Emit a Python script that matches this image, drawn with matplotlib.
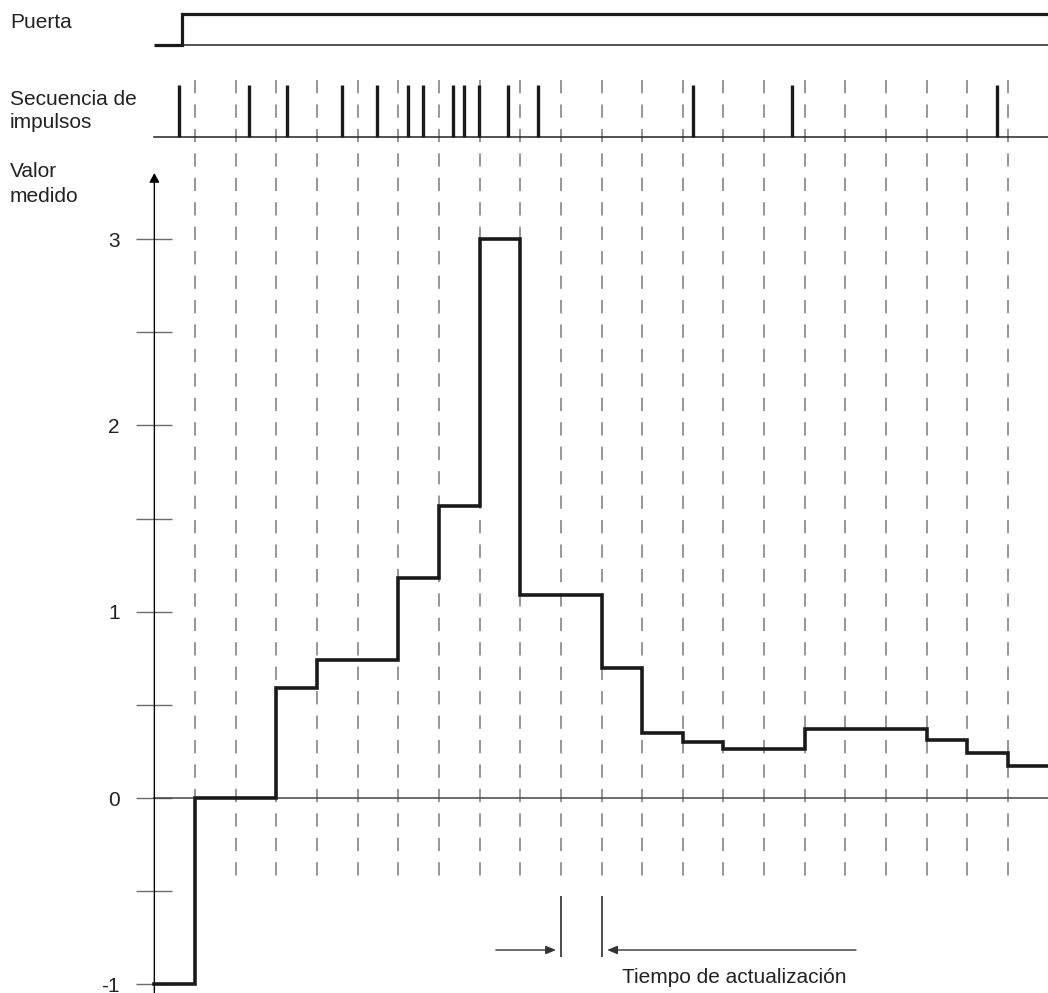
import matplotlib.pyplot as plt
import numpy as np

plt.rcParams['font.family'] = ['Liberation Sans', 'DejaVu Sans']

W, H, DPI = 1048, 993, 100

# time is counted in update intervals, values in units of the measured quantity
gate_t = [-1.0, -0.32, 21.0]
gate_state = [0, 1, 1]
pulse_t = [-0.39, 1.33, 2.26, 3.62, 4.48, 5.24, 5.61, 6.35, 6.62, 6.99,
           7.70, 8.44, 12.25, 14.69, 19.73]
update_t = np.arange(0, 21)
step_t = [-1, 0, 2, 3, 5, 6, 7, 8, 10, 11, 12, 13, 15, 18, 19, 20, 21]
step_v = [-1, 0, 0.59, 0.74, 1.18, 1.57, 3.0, 1.09, 0.70, 0.35, 0.30,
          0.265, 0.37, 0.31, 0.24, 0.17, 0.17]
y_major = [-1, 0, 1, 2, 3]
y_minor = [-0.5, 0.5, 1.5, 2.5]
marker_t = [9, 10]
labels = {
    'gate': 'Puerta',
    'pulses': ['Secuencia de', 'impulsos'],
    'value': ['Valor', 'medido'],
    'update': 'Tiempo de actualización',
}

# layout (pixels of the output image)
PX_T, X0 = 40.65, 195.0       # px per interval, px of t=0
PX_V, Y0 = 186.3, 798.0       # px per unit, px (from top) of value 0
FS = 15
INK = '#1a1a1a'


def tx(px):
    return (px - X0) / PX_T


def vy(py):
    return (Y0 - py) / PX_V


fig = plt.figure(figsize=(W / DPI, H / DPI), dpi=DPI, facecolor='white')
ax = fig.add_axes([0, 0, 1, 1])
ax.set_xlim(tx(0), tx(W))
ax.set_ylim(vy(H), vy(0))
ax.patch.set_alpha(0)


def lane(top_px, bot_px, zero_px, one_px):
    a = fig.add_axes([0, 1 - bot_px / H, 1, (bot_px - top_px) / H], sharex=ax)
    s = zero_px - one_px
    a.set_ylim((zero_px - bot_px) / s, (zero_px - top_px) / s)
    a.axis('off')
    a.patch.set_alpha(0)
    return a


# gate
ax_g = lane(0, 60, 45, 13.5)
ax_g.step(gate_t, gate_state, where='post', lw=2.3, color=INK,
          solid_joinstyle='miter', solid_capstyle='butt')
ax_g.plot([gate_t[1], gate_t[-1]], [0, 0], lw=1.1, color='#222222')

# pulse sequence
ax_p = lane(70, 150, 137, 85)
ax_p.plot([-1, 21], [0, 0], lw=1.1, color='#222222')
ax_p.vlines(pulse_t, 0, 1, lw=2.4, color=INK)

# update grid
ax.vlines(update_t, vy(80), vy(885), colors='#7a7a7a', lw=1.1,
          linestyles=(0, (8.7, 7.3)))

# value axis
for s in ['top', 'right', 'bottom']:
    ax.spines[s].set_visible(False)
ax.spines['left'].set_visible(False)
ax.spines['left'].set_position(('data', -1))
ax.set_xticks([])
ax.set_yticks(y_major)
ax.set_yticks(y_minor, minor=True)
ax.set_yticklabels([str(v) for v in y_major])
ax.tick_params(axis='y', which='both', direction='inout', length=26,
               width=1.0, color='#6a6a6a', labelsize=FS, pad=12,
               labelcolor='#222222')
ax.annotate('', xy=(-1, vy(173)), xytext=(-1, vy(H + 5)),
            arrowprops=dict(arrowstyle='-|>,head_length=0.55,head_width=0.3',
                            lw=1.0, color='black', shrinkA=0, shrinkB=0,
                            mutation_scale=10))
ax.plot([-1, 21], [0, 0], lw=1.1, color='#444444')

# measured value
ax.step(step_t, step_v, where='post', lw=2.6, color=INK,
        solid_joinstyle='miter', zorder=5)

# update time marker
ax.vlines(marker_t, vy(896), vy(957), colors=INK, lw=1.1)
ay = vy(950)
ax.annotate('', xy=(marker_t[0] - 0.12, ay), xytext=(marker_t[0] - 1.6, ay),
            arrowprops=dict(arrowstyle='-|>,head_length=0.6,head_width=0.25',
                            lw=1.0, color='#333333', shrinkA=0, shrinkB=0,
                            mutation_scale=10))
ax.annotate('', xy=(marker_t[1] + 0.14, ay), xytext=(marker_t[1] + 6.26, ay),
            arrowprops=dict(arrowstyle='-|>,head_length=0.6,head_width=0.25',
                            lw=1.0, color='#333333', shrinkA=0, shrinkB=0,
                            mutation_scale=10))
ax.text(marker_t[1] + 0.5, vy(983), labels['update'], fontsize=FS,
        ha='left', va='baseline', color='#222222')


# row labels
def label(px, py, s):
    fig.text(px / W, 1 - py / H, s, fontsize=FS, ha='left', va='baseline',
             color='#222222')


label(10, 28, labels['gate'])
label(10, 105, labels['pulses'][0])
label(10, 128, labels['pulses'][1])
label(10, 177, labels['value'][0])
label(10, 202, labels['value'][1])

fig.savefig('out.png', dpi=DPI, facecolor='white')
